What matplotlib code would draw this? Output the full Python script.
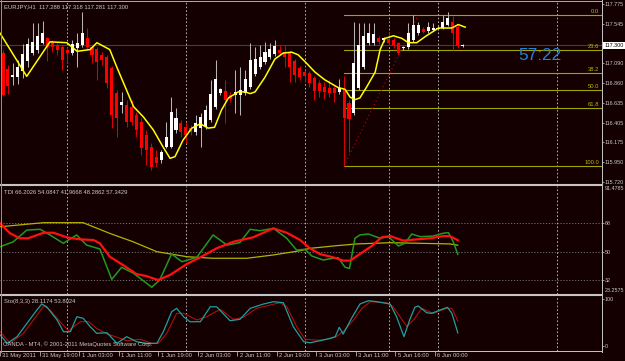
import matplotlib
matplotlib.use('Agg')
import matplotlib.pyplot as plt
from matplotlib.lines import Line2D
from matplotlib.transforms import blended_transform_factory
import numpy as np

plt.rcParams['font.family'] = ['Liberation Sans', 'DejaVu Sans']

# ---------------- data ----------------
opens = [117.21, 117.03, 116.93, 116.93, 117.00, 117.12, 117.21, 117.25, 117.33, 117.38,
         117.34, 117.30, 117.28, 117.25, 117.21, 117.27, 117.30, 117.38, 117.28, 117.26,
         117.19, 117.16, 117.04, 116.75, 116.61, 116.61, 116.59, 116.49, 116.41, 116.26,
         116.12, 116.01, 115.97, 116.12, 116.12, 116.32, 116.40, 116.35, 116.34, 116.30,
         116.34, 116.35, 116.43, 116.59, 116.75, 116.77, 116.72, 116.72, 116.72, 116.75,
         116.82, 116.97, 117.05, 117.11, 117.16, 117.20, 117.25, 117.22, 117.21, 117.12,
         117.04, 116.99, 116.98, 116.92, 116.86, 116.82, 116.81, 116.81, 116.76, 116.79,
         116.63, 116.52, 116.81, 117.05, 117.33, 117.33, 117.38, 117.36, 117.37, 117.36,
         117.33, 117.27, 117.28, 117.36, 117.44, 117.49, 117.47, 117.48, 117.49, 117.50,
         117.54, 117.57, 117.51, 117.288]
highs = [117.25, 117.07, 117.10, 117.13, 117.32, 117.38, 117.56, 117.56, 117.58, 117.40,
         117.36, 117.33, 117.30, 117.28, 117.36, 117.44, 117.69, 117.50, 117.30, 117.28,
         117.22, 117.19, 117.06, 116.78, 116.76, 116.67, 116.67, 116.53, 116.46, 116.32,
         116.17, 116.09, 116.09, 116.41, 116.70, 116.57, 116.43, 116.41, 116.38, 116.49,
         116.52, 116.61, 116.90, 117.13, 116.81, 116.90, 116.76, 117.01, 117.05, 117.01,
         117.33, 117.28, 117.30, 117.34, 117.33, 117.36, 117.30, 117.30, 117.23, 117.14,
         117.06, 117.01, 117.00, 116.94, 116.90, 116.87, 116.90, 116.83, 116.91, 116.94,
         116.67, 117.57, 117.56, 117.56, 117.56, 117.56, 117.41, 117.40, 117.45, 117.38,
         117.34, 117.29, 117.56, 117.65, 117.57, 117.51, 117.57, 117.56, 117.52, 117.65,
         117.69, 117.64, 117.54, 117.318]
lows = [116.71, 116.74, 116.84, 116.85, 116.92, 117.05, 117.19, 117.21, 117.32, 117.12,
        117.22, 117.19, 117.01, 117.10, 117.19, 117.05, 117.28, 117.25, 117.10, 116.90,
        117.07, 116.81, 116.34, 116.24, 116.52, 116.35, 116.38, 116.24, 116.03, 115.91,
        115.86, 115.89, 115.94, 116.11, 116.11, 116.28, 116.24, 116.17, 116.26, 116.26,
        116.12, 116.33, 116.41, 116.56, 116.72, 116.40, 116.64, 116.52, 116.49, 116.72,
        116.79, 116.94, 117.03, 117.08, 117.14, 117.18, 117.19, 117.05, 116.87, 116.87,
        116.90, 116.87, 116.82, 116.67, 116.70, 116.68, 116.70, 116.64, 116.74, 115.90,
        116.06, 116.49, 116.78, 117.03, 117.30, 117.30, 117.32, 117.34, 117.30, 117.27,
        117.19, 117.25, 117.26, 117.34, 117.42, 117.44, 117.44, 117.47, 117.48, 117.49,
        117.52, 117.25, 117.27, 117.281]
closes = [116.72, 116.83, 116.96, 117.05, 117.20, 117.32, 117.34, 117.41, 117.44, 117.28,
          117.28, 117.25, 117.13, 117.21, 117.32, 117.33, 117.44, 117.28, 117.19, 117.11,
          117.13, 116.86, 116.49, 116.46, 116.64, 116.41, 116.41, 116.32, 116.11, 116.09,
          115.89, 115.94, 116.06, 116.24, 116.53, 116.46, 116.30, 116.26, 116.30, 116.40,
          116.47, 116.55, 116.74, 116.91, 116.79, 116.67, 116.68, 116.76, 116.78, 116.91,
          117.13, 117.14, 117.16, 117.22, 117.26, 117.29, 117.21, 117.16, 117.05, 116.96,
          116.93, 116.94, 116.86, 116.77, 116.77, 116.76, 116.75, 116.75, 116.81, 116.46,
          116.45, 117.10, 117.30, 117.41, 117.44, 117.43, 117.34, 117.38, 117.33, 117.30,
          117.21, 117.28, 117.44, 117.54, 117.54, 117.45, 117.51, 117.50, 117.50, 117.57,
          117.62, 117.44, 117.288, 117.300]

ma_t = [-0.6, 4.8, 9.5, 12.9, 15.0, 17.6, 19.0, 21.6, 23.0, 25.0, 26.4, 28.4, 30.4, 32.4, 33.8,
        34.8, 36.4, 38.2, 39.9, 41.5, 42.8, 44.2, 45.6, 47.6, 49.0, 50.0, 51.0, 53.0, 55.0, 56.7,
        58.4, 59.7, 61.1, 63.1, 65.1, 67.8, 69.2, 70.2, 71.2, 72.2, 73.6, 75.3, 76.3, 77.3, 79.0,
        80.7, 82.0, 83.7, 85.4, 88.1, 90.8, 92.1, 93.5]
ma_v = [117.44, 116.94, 117.34, 117.33, 117.23, 117.25, 117.33, 117.25, 117.05, 116.78, 116.59,
        116.47, 116.32, 116.12, 115.99, 116.01, 116.20, 116.34, 116.39, 116.34, 116.35, 116.55,
        116.69, 116.76, 116.76, 116.74, 116.76, 116.93, 117.14, 117.21, 117.22, 117.19, 117.11,
        116.99, 116.90, 116.81, 116.79, 116.70, 116.67, 116.69, 116.82, 116.99, 117.25, 117.38,
        117.41, 117.38, 117.33, 117.33, 117.40, 117.50, 117.50, 117.54, 117.51]

fib_labels = ['0.0', '23.6', '38.2', '50.0', '61.8', '100.0']
fib_prices = [117.65, 117.24, 116.98, 116.78, 116.57, 115.90]
fib_start = 69
fib_trend_t = [69, 84]
fib_trend_v = [115.90, 117.65]
bid_price = 117.300

tdi_yel_t = [-0.6, 8.2, 16.2, 21.6, 26.3, 31.1, 37.2, 42.5, 49.3, 54.7, 60.1, 62.1, 67.5, 71.6,
             78.3, 84.4, 90.4, 92.0]
tdi_yel_v = [65.8, 68.4, 68.4, 61.6, 56.3, 50.0, 46.8, 45.8, 45.8, 47.9, 50.6, 52.1, 53.8, 54.9,
             55.7, 55.3, 54.9, 54.1]
tdi_grn_t = [-0.6, 2.1, 4.8, 7.5, 9.5, 12.2, 14.9, 16.9, 19.6, 22.0, 24.0, 26.4, 30.1, 31.7, 34.1,
             36.2, 39.2, 42.5, 45.3, 47.9, 50.0, 52.0, 54.7, 57.4, 59.4, 61.1, 62.5, 64.8, 66.2,
             67.8, 69.2, 70.1, 71.2, 72.2, 73.9, 76.3, 78.0, 80.0, 81.3, 82.7, 84.4, 87.0, 89.1,
             90.1, 91.1, 92.0]
tdi_grn_v = [53.1, 56.3, 63.7, 64.2, 60.6, 55.3, 60.6, 54.2, 51.7, 32.4, 40.1, 36.3, 27.4, 32.0,
             48.5, 43.6, 46.4, 60.6, 54.2, 55.7, 64.2, 63.3, 64.8, 58.5, 51.0, 51.5, 47.2, 44.7,
             45.5, 46.2, 40.1, 39.4, 58.5, 60.6, 61.2, 58.5, 59.5, 53.6, 55.3, 61.2, 59.5, 59.9,
             61.7, 62.1, 56.3, 48.3]
tdi_red_t = [-0.6, 1.4, 3.4, 5.1, 8.2, 10.2, 12.9, 15.6, 18.3, 19.6, 21.6, 24.3, 27.0, 29.0, 31.4,
             33.8, 37.2, 39.9, 43.2, 46.6, 50.6, 54.7, 57.4, 60.1, 62.1, 64.1, 66.8, 68.8, 70.2,
             72.2, 74.6, 76.6, 78.3, 81.0, 83.7, 86.4, 89.1, 90.4, 92.0]
tdi_red_v = [68.0, 61.7, 58.5, 58.5, 62.0, 62.0, 59.1, 57.8, 57.4, 55.3, 46.8, 41.5, 35.8, 34.5,
             32.0, 35.2, 42.2, 46.4, 52.1, 56.3, 59.1, 64.8, 62.0, 57.4, 52.1, 48.5, 46.4, 44.3,
             44.3, 48.5, 53.6, 59.1, 59.9, 57.0, 57.8, 58.5, 59.9, 59.9, 57.3]
tdi_levels = [68, 50, 32]
tdi_range = (23.2575, 91.4785)

sto_k_t = [-0.6, 0.8, 2.8, 4.8, 6.8, 7.8, 8.8, 10.9, 12.2, 13.6, 14.9, 16.2, 17.6, 18.9, 21.0,
           23.0, 25.0, 27.0, 29.0, 31.1, 32.4, 34.1, 35.1, 36.5, 37.8, 39.9, 41.9, 43.2, 45.9,
           47.9, 50.0, 52.7, 54.7, 56.7, 58.7, 60.8, 62.1, 64.1, 66.2, 67.2, 68.0, 68.8, 70.5,
           72.2, 73.9, 75.6, 78.3, 79.6, 81.1, 82.3, 83.3, 84.0, 85.7, 86.7, 88.4, 89.9, 90.8, 92.0]
sto_k_v = [23.6, 5.7, 20.0, 48.5, 77.0, 90.0, 84.0, 55.7, 30.6, 30.6, 62.7, 59.3, 41.4, 27.2, 28.5,
           5.7, 20.0, 9.2, 5.7, 5.7, 30.6, 73.5, 80.7, 62.7, 52.0, 52.0, 84.0, 84.0, 54.2, 57.1,
           80.7, 90.0, 94.9, 92.7, 41.4, 9.2, 7.0, 11.3, 16.5, 20.0, 40.0, 25.7, 59.3, 90.0, 97.0,
           94.9, 90.0, 62.7, 20.0, 57.1, 82.9, 85.7, 71.3, 70.0, 77.0, 82.9, 70.0, 28.1]
sto_d_t = [-0.6, 1.4, 4.1, 6.1, 8.2, 9.5, 11.5, 13.2, 15.6, 17.3, 18.9, 21.0, 22.7, 25.0, 27.7,
           30.1, 31.4, 33.1, 35.1, 36.5, 39.2, 41.2, 43.9, 46.6, 48.6, 51.3, 54.0, 56.0, 57.4,
           59.4, 61.1, 63.1, 64.8, 67.2, 68.8, 70.9, 72.6, 74.3, 77.6, 78.9, 81.7, 83.3, 84.7,
           87.0, 89.8, 90.8, 92.0]
sto_d_v = [30.6, 5.7, 27.2, 55.7, 85.7, 77.0, 52.0, 32.8, 52.0, 52.0, 37.9, 25.7, 20.0, 11.3, 14.3,
           5.7, 5.7, 27.2, 70.0, 70.0, 55.7, 62.7, 78.6, 57.1, 61.5, 80.7, 87.8, 92.7, 84.0, 41.4,
           14.3, 12.8, 12.8, 18.6, 30.6, 55.7, 80.7, 94.9, 92.7, 84.0, 41.4, 59.3, 80.7, 70.0,
           80.7, 80.7, 53.8]

price_ticks = [117.775, 117.545, 117.090, 116.860, 116.635, 116.405, 116.175, 115.950, 115.720]
day_starts = [13, 37, 61, 78, 88, 112]
time_label_idx = [0, 8, 16, 24, 32, 40, 48, 56, 64, 72, 80, 88]
time_labels = ['31 May 2011', '31 May 19:00', '1 Jun 03:00', '1 Jun 11:00', '1 Jun 19:00',
               '2 Jun 03:00', '2 Jun 11:00', '2 Jun 19:00', '3 Jun 03:00', '3 Jun 11:00',
               '5 Jun 16:00', '6 Jun 00:00']

title_main = 'EURJPY,H1  117.288 117.318 117.281 117.300'
title_tdi = 'TDI 66.2026 54.0847 41.9668 48.2862 57.3429'
title_sto = 'Sto(8,3,3) 28.1174 53.8024'
copyright_txt = 'OANDA - MT4, \u00a9 2001-2011 MetaQuotes Software Corp.'
timer_txt = '57:22'

# ---------------- style ----------------
BG = '#140000'
FG = '#c8c8c8'
FS = 4.2
FS_AX = 3.9
W, H = 625, 361
XMIN, XMAX = -0.607, 121.18

fig = plt.figure(figsize=(W / 100, H / 100), dpi=100, facecolor=BG)


def rect(x0, y0, x1, y1):
    return [x0 / W, 1 - y1 / H, (x1 - x0) / W, (y1 - y0) / H]


def style(ax, ylim):
    ax.set_facecolor(BG)
    ax.set_xlim(XMIN, XMAX)
    ax.set_ylim(*ylim)
    for s in ax.spines.values():
        s.set_visible(False)
    ax.yaxis.tick_right()
    ax.tick_params(axis='y', colors='#b0b0b0', labelcolor=FG, labelsize=FS_AX,
                   length=1.6, width=0.6, pad=0.6, direction='out')
    ax.tick_params(axis='x', bottom=False, labelbottom=False)
    for d in day_starts:
        ax.axvline(d, color='#b8b8b8', lw=0.7, ls=(0, (1.6, 2.2)), zorder=0.6)


ax_main = fig.add_axes(rect(0, 1, 602, 184.5))
ax_tdi = fig.add_axes(rect(0, 186.3, 602, 293.8))
ax_sto = fig.add_axes(rect(0, 296, 602, 351))

style(ax_main, (115.687, 117.813))
style(ax_tdi, tdi_range)
style(ax_sto, (-10.7, 107.1))

# ---- main panel ----
o = np.array(opens); h = np.array(highs); l = np.array(lows); c = np.array(closes)
idx = np.arange(len(c))
up = c >= o
ax_main.axhline(bid_price, color='#36473f', lw=0.8, zorder=0.5)
ax_main.vlines(idx[up], l[up], h[up], color='#b4b4b4', lw=0.75, zorder=2)
ax_main.vlines(idx[~up], l[~up], h[~up], color='#d80000', lw=0.75, zorder=2)
bottom = np.minimum(o, c)
height = np.maximum(np.abs(c - o), 0.008)
ax_main.bar(idx[up], height[up], bottom=bottom[up], width=0.62, color='#ffffff', lw=0, zorder=3)
ax_main.bar(idx[~up], height[~up], bottom=bottom[~up], width=0.62, color='#ff0000', lw=0, zorder=3)
ax_main.plot(ma_t, ma_v, color='#ffff00', lw=1.1, zorder=4)

tr_right = blended_transform_factory(ax_main.transAxes, ax_main.transData)
for lab, p in zip(fib_labels, fib_prices):
    ax_main.plot([fib_start, XMAX], [p, p], color='#a4a400', lw=0.8, zorder=1)
    ax_main.text(1 - 3 / 602, p + 0.012, lab, transform=tr_right, ha='right', va='bottom',
                 fontsize=FS, color='#b8b800')
ax_main.plot(fib_trend_t, fib_trend_v, color='#c00000', lw=0.8, ls=(0, (1, 2.6)), zorder=1.5)

ax_main.set_yticks(price_ticks)
ax_main.set_yticklabels(['%.3f' % v for v in price_ticks])
ax_main.text(1 + 2.5 / 602, bid_price, '%.3f' % bid_price, transform=tr_right, ha='left',
             va='center', fontsize=FS_AX, color='#000000',
             bbox=dict(boxstyle='square,pad=0.2', fc='#ffffff', ec='none'), clip_on=False)

fig.text(4 / W, 1 - 6.5 / H, title_main, ha='left', va='center', fontsize=FS, color=FG)
fig.text(539.7 / W, 1 - 55.5 / H, timer_txt, ha='center', va='center', fontsize=12.4,
         color='#2a7fd8')

# ---- TDI panel ----
for lv in tdi_levels:
    ax_tdi.axhline(lv, color='#7a7a7a', lw=0.6, ls=(0, (1.5, 2)), zorder=0.5)
ax_tdi.plot(tdi_yel_t, tdi_yel_v, color='#b4b400', lw=0.9, zorder=2)
ax_tdi.plot(tdi_grn_t, tdi_grn_v, color='#1f9a1f', lw=1.1, zorder=3)
ax_tdi.plot(tdi_red_t, tdi_red_v, color='#ff1010', lw=1.6, zorder=4)
ax_tdi.set_yticks(tdi_levels)
ax_tdi.set_yticklabels([str(v) for v in tdi_levels])
ax_tdi.text(1 + 2.5 / 602, 1, '%.4f' % tdi_range[1], transform=ax_tdi.transAxes, ha='left',
            va='top', fontsize=FS_AX, color=FG, clip_on=False)
ax_tdi.text(1 + 2.5 / 602, 0.01, '%.4f' % tdi_range[0], transform=ax_tdi.transAxes, ha='left',
            va='bottom', fontsize=FS_AX, color=FG, clip_on=False)
fig.text(4 / W, 1 - 192 / H, title_tdi, ha='left', va='center', fontsize=FS, color=FG)

# ---- Stochastic panel ----
ax_sto.plot(sto_d_t, sto_d_v, color='#c01010', lw=0.7, zorder=2)
ax_sto.plot(sto_k_t, sto_k_v, color='#1fa0a0', lw=0.9, zorder=3)
ax_sto.set_yticks([100, 0])
ax_sto.set_yticklabels(['100', '0'])
fig.text(4 / W, 1 - 301.5 / H, title_sto, ha='left', va='center', fontsize=FS, color=FG)
fig.text(3 / W, 1 - 344 / H, copyright_txt, ha='left', va='center', fontsize=FS, color=FG)

# time axis
ax_sto.set_xticks(np.array(time_label_idx) - 0.65)
ax_sto.tick_params(axis='x', bottom=True, labelbottom=False, length=3.6, width=0.6,
                   colors='#b0b0b0', direction='out')
tr_time = blended_transform_factory(ax_sto.transData, fig.transFigure)
for t, lab in zip(time_label_idx, time_labels):
    ax_sto.text(t - 0.15, 1 - 355.5 / H, lab, transform=tr_time, ha='left', va='center',
                fontsize=FS, color=FG, clip_on=False)

# ---- frame lines ----
def fline(x0, y0, x1, y1, color, lw):
    fig.add_artist(Line2D([x0 / W, x1 / W], [1 - y0 / H, 1 - y1 / H],
                          transform=fig.transFigure, color=color, lw=lw))

fline(0, 0.5, 602, 0.5, '#a8a8a8', 0.72)
fline(0, 185.3, 602, 185.3, '#c4c4c4', 1.5)
fline(0, 295.0, 602, 295.0, '#c4c4c4', 1.5)
fline(0, 351.0, 602, 351.0, '#c0c0c0', 0.72)
fline(602, 0, 602, 351.5, '#c0c0c0', 0.72)
fline(0.5, 0, 0.5, 351.5, '#909090', 0.72)

fig.savefig('out.png', dpi=100, facecolor=BG)
